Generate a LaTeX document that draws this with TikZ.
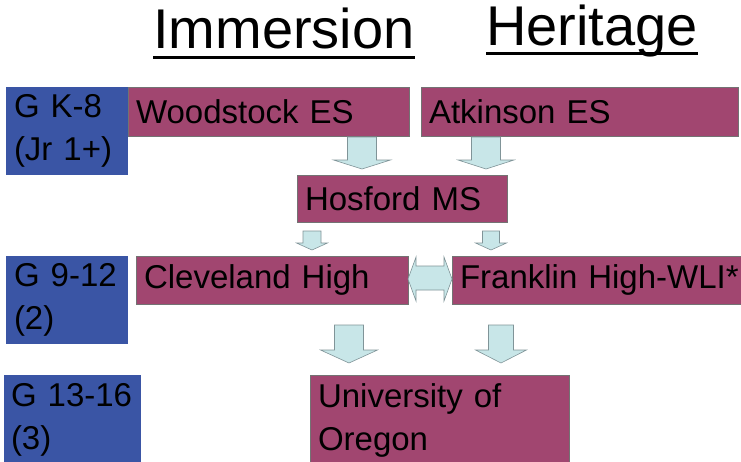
\documentclass[tikz,border=0pt]{standalone}
\usepackage{fontspec}
\setmainfont{Liberation Sans}
\definecolor{gblue}{RGB}{58,85,165}
\definecolor{smag}{RGB}{161,70,112}
\definecolor{afill}{RGB}{200,230,232}
\definecolor{aline}{RGB}{128,148,152}
\newcommand\darrow[6]{%
  \draw[blockarr] (#1-#2,#4) -- (#1+#2,#4) -- (#1+#2,#5) -- (#1+#3,#5) -- (#1,#6) -- (#1-#3,#5) -- (#1-#2,#5) -- cycle;}
\begin{document}
\begin{tikzpicture}[x=1pt,y=-1pt,
  boxtext/.style={font=\fontsize{33}{43}\selectfont, anchor=north west, align=left, inner xsep=8pt, inner ysep=0pt, outer sep=0pt},
  grade/.style={boxtext, fill=gblue},
  school/.style={boxtext, fill=smag, draw=black!55, line width=0.6pt},
  head/.style={font=\fontsize{56}{60}\selectfont, anchor=base west, inner sep=0pt},
  blockarr/.style={fill=afill, draw=aline, line width=0.6pt, line join=miter}]
\useasboundingbox (0,0) rectangle (741,461);
\fill[white] (0,0) rectangle (741,461);

% headings
\node[head] (imm) at (153,48) {Immersion};
\node[head] (her) at (486,45) {Heritage};
\draw[line width=3pt] ([yshift=-9pt]imm.base west) -- ([yshift=-9pt]imm.base east);
\draw[line width=3pt] ([yshift=-8pt]her.base west) -- ([yshift=-8pt]her.base east);

% grade boxes
\node[grade, text width=106pt, minimum height=88pt] (g1) at (6,87) {\mbox{G K-8}\\\mbox{(Jr 1+)}};
\node[grade, text width=106pt, minimum height=88pt] (g2) at (6,256) {\mbox{G 9-12}\\(2)};
\node[grade, inner xsep=7pt, text width=123pt, minimum height=90pt] (g3) at (4,375) {\mbox{G 13-16}\\(3)};

% school boxes
\node[school, text width=265pt, minimum height=49pt] (wood) at (128,87) {Woodstock ES};
\node[school, text width=301pt, minimum height=49pt] (atk) at (421,87) {Atkinson ES};
\node[school, text width=194pt, minimum height=47pt] (hos) at (297,175) {Hosford MS};
\node[school, text width=256pt, minimum height=48pt] (cle) at (136,256) {Cleveland High};
\node[school, text width=279pt, minimum height=48pt] (fra) at (452,256) {\mbox{Franklin High-WLI*}};
\node[school, text width=243pt, minimum height=90pt] (uo) at (310,375) {University of\\Oregon};

% block arrows
\darrow{362}{14.5}{28.5}{137}{160}{169}
\darrow{486}{14.5}{28}{137}{160}{169}
\darrow{312}{9}{15.5}{231}{243}{250}
\darrow{491}{8.5}{15.5}{231}{243}{250}
\darrow{349}{14.5}{28.5}{325}{350}{363}
\darrow{501}{12.5}{25.5}{325}{350}{363}
\draw[blockarr] (408,279) -- (416,257) -- (416,266) -- (444,266) -- (444,257) -- (452,279)
  -- (444,301) -- (444,290) -- (416,290) -- (416,301) -- cycle;
\end{tikzpicture}
\end{document}
